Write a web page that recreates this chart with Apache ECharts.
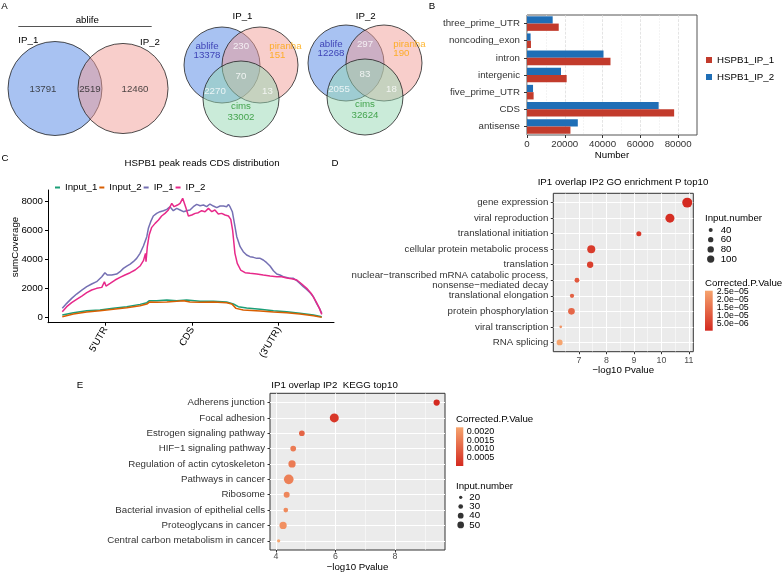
<!DOCTYPE html>
<html><head><meta charset="utf-8">
<script src="https://cdn.jsdelivr.net/npm/echarts@6/dist/echarts.min.js"></script>
<style>html,body{margin:0;padding:0;background:#fff}#c{width:784px;height:572px}</style>
</head><body><div id="c"></div>
<script>
// ================= DATA =================
// Panel A
const vennPairSets = ['IP_1', 'IP_2'];
const vennPairCounts = [13791, 2519, 12460]; // IP_1 only, both, IP_2 only
const venn3Sets = ['ablife', 'piranha', 'cims'];
// ablife only, piranha only, cims only, ablife&piranha, ablife&cims, piranha&cims, all three
const vennIP1 = [13378, 151, 33002, 230, 2270, 13, 70];
const vennIP2 = [12268, 190, 32624, 297, 2055, 18, 83];

// Panel B
const regionCats = ['three_prime_UTR', 'noncoding_exon', 'intron', 'intergenic', 'five_prime_UTR', 'CDS', 'antisense'];
const regionIP1 = [16800, 2100, 44200, 21000, 3500, 77900, 23000];
const regionIP2 = [13600, 1900, 40500, 18000, 3200, 69700, 26900];
const regionTicks = [0, 20000, 40000, 60000, 80000];

// Panel C  [position %, sumCoverage]
const covInput1 = [[0.1,183],[4.4,343],[9.5,480],[14.6,526],[19.7,640],[24.9,754],[30.0,914],[32.6,1029],[33.6,1166],[36.4,1166],[40.3,1212],[44.1,1166],[47.9,1212],[53.1,1120],[58.2,1120],[63.3,1074],[65.9,937],[67.8,754],[71.0,663],[76.2,572],[81.3,480],[86.4,411],[91.5,297],[96.7,183],[99.9,69]];
const covInput2 = [[0.1,69],[4.4,251],[9.5,389],[14.6,480],[19.7,572],[24.9,686],[30.0,823],[32.6,937],[33.6,1074],[36.4,1052],[40.3,1074],[44.1,1120],[46.7,1166],[49.2,1074],[53.1,1052],[58.2,1074],[63.3,1029],[65.3,937],[66.9,640],[69.7,526],[76.2,457],[81.3,389],[86.4,343],[91.5,251],[96.7,137],[99.9,23]];
const covIP1 = [[0.1,640],[1.8,983],[3.7,1326],[5.6,1623],[7.6,1897],[9.5,2126],[11.4,2309],[13.3,2469],[15.3,2812],[16.5,3086],[17.4,2926],[19.1,2926],[21.0,2995],[22.3,3155],[23.6,3383],[24.9,3543],[26.2,3680],[27.4,3840],[28.7,4069],[30.0,4412],[31.3,4915],[32.6,5555],[33.2,6126],[34.1,6584],[35.1,6972],[36.4,7155],[37.7,7269],[39.0,7338],[40.3,7430],[41.5,7612],[42.8,7338],[44.1,7498],[45.4,7384],[46.7,7269],[47.9,7338],[49.2,7384],[50.5,7612],[51.8,7772],[53.1,7681],[54.4,7727],[55.6,7612],[56.9,7795],[58.2,7658],[59.5,7544],[60.8,7658],[62.1,7658],[63.3,7612],[64.0,7772],[64.6,7612],[65.5,7269],[66.3,6469],[67.2,5555],[68.5,4869],[69.7,4526],[71.0,4298],[72.3,4183],[73.6,4138],[74.9,4069],[76.2,4069],[77.4,3955],[78.7,3772],[80.0,3543],[81.3,3223],[82.6,2995],[83.8,2926],[85.1,2812],[86.4,2766],[87.7,2697],[89.0,2697],[90.3,2537],[91.5,2355],[92.8,2126],[94.1,1943],[95.4,1715],[96.7,1440],[97.9,983],[99.0,640],[99.9,297]];
const covIP2 = [[0.1,411],[1.8,754],[3.7,1029],[5.6,1257],[7.6,1486],[9.5,1715],[11.4,1897],[13.3,2012],[15.3,2080],[16.3,2469],[16.9,2172],[18.5,2355],[20.4,2583],[22.3,2766],[24.2,2926],[26.2,3086],[28.1,3269],[30.0,3543],[31.3,3909],[32.1,4412],[32.3,3840],[32.8,4869],[33.5,5669],[34.5,6195],[35.8,6469],[37.1,6698],[38.3,6972],[39.6,7155],[40.9,7384],[42.2,7841],[43.1,7612],[44.4,7727],[45.4,7841],[46.4,8184],[47.1,8070],[47.7,7498],[48.6,6972],[49.9,7040],[51.2,7155],[52.4,7201],[53.7,7338],[55.0,7269],[56.3,7498],[57.6,7269],[58.8,7384],[60.1,7109],[61.4,7155],[62.7,7040],[64.0,6972],[64.9,6744],[65.6,6012],[66.5,4412],[67.4,3726],[68.7,3269],[70.4,3086],[72.3,3040],[74.9,2995],[77.4,2926],[80.0,2858],[82.6,2812],[84.5,2812],[86.4,2720],[88.3,2675],[90.3,2583],[92.2,2309],[94.1,2012],[96.0,1623],[97.9,1029],[99.0,640],[99.9,229]];
const covTickPos = [16.67, 50, 83.33];
const covTickLabels = ["5'UTR", 'CDS', "(3'UTR)"];
const covYTicks = [0, 2000, 4000, 6000, 8000];

// Panel D (GO)
const goTerms = ['gene expression', 'viral reproduction', 'translational initiation', 'cellular protein metabolic process', 'translation', 'nuclear\u2212transcribed mRNA catabolic process,\nnonsense\u2212mediated decay', 'translational elongation', 'protein phosphorylation', 'viral transcription', 'RNA splicing'];
const goLogP = [10.94, 10.31, 9.18, 7.45, 7.41, 6.93, 6.75, 6.73, 6.34, 6.30];
const goCount = [175, 145, 55, 118, 79, 52, 44, 86, 26, 72];
const goPadj = [8e-7, 1.6e-6, 3.5e-6, 4.5e-6, 5e-6, 1.0e-5, 1.2e-5, 1.3e-5, 2.2e-5, 2.55e-5];
const goXTicks = [7, 8, 9, 10, 11];
const goXMinor = [6.5, 7.5, 8.5, 9.5, 10.5];
const goSizeBreaks = [40, 60, 80, 100];
const goColorBreaks = [2.5e-5, 2.0e-5, 1.5e-5, 1.0e-5, 5.0e-6];

// Panel E (KEGG)
const keggTerms = ['Adherens junction', 'Focal adhesion', 'Estrogen signaling pathway', 'HIF\u22121 signaling pathway', 'Regulation of actin cytoskeleton', 'Pathways in cancer', 'Ribosome', 'Bacterial invasion of epithelial cells', 'Proteoglycans in cancer', 'Central carbon metabolism in cancer'];
const keggLogP = [9.40, 5.96, 4.87, 4.58, 4.54, 4.43, 4.36, 4.33, 4.24, 4.09];
const keggCount = [45, 82, 39, 39, 57, 93, 42, 30, 57, 20];
const keggPadj = [1e-5, 2.5e-4, 1.1e-3, 1.5e-3, 1.5e-3, 1.6e-3, 1.7e-3, 1.8e-3, 1.9e-3, 2.26e-3];
const keggXTicks = [4, 6, 8];
const keggXMinor = [5, 7, 9];
const keggSizeBreaks = [20, 30, 40, 50];
const keggColorBreaks = [0.0020, 0.0015, 0.0010, 0.0005];

// ================= STYLE / LAYOUT =================
const FONT = 'Liberation Sans';
const FS = 9.7;
const LOW = '#D42A20', HIGH = '#F6A46E';
const sizeD = n => Math.sqrt(Math.max(1, -8.9 + 0.62 * n));
const sizeE = n => Math.sqrt(Math.max(1, -11.7 + 1.13 * n));
const padjD = [Math.min(...goPadj), Math.max(...goPadj)];
const padjE = [Math.min(...keggPadj), Math.max(...keggPadj)];
const plain = v => String(v);

const LAY = {
  pair: {cx: [55, 123], cy: 88.5, r0: 47},
  v3: [{bx: 241, by: 76.5}, {bx: 365, by: 74.5}],
  v3circle: [[-19, -11.5], [19, -11.5], [0, 22.5]], r3: 38,
  v3lab: {a: [-34, -25.5], p: [28.3, -25.5], c: [0, 35.5], ap: [0, -30], ac: [-26, 15], pc: [26.5, 15], all: [0, 0]},
  legD: {x: 705, sizeTop: 218.3, key0: 230, step: 9.7, colTop: 283.3, barY: 290.7, barH: 40},
  legE: {x: 456, colTop: 419.3, barY: 427.3, barH: 38.7, sizeTop: 486, key0: 497.3, step: 9.2}
};

const vennFill = ['rgba(82,134,230,0.5)', 'rgba(242,158,152,0.5)', 'rgba(150,215,180,0.5)'];
const setColor = ['#2323A8', '#FFA500', '#22922A'];

// ---------- Venn circles & labels ----------
const circles = [];
const labels = [];
const tot1 = vennPairCounts[0] + vennPairCounts[1];
const tot2 = vennPairCounts[1] + vennPairCounts[2];
const rr = [LAY.pair.r0, LAY.pair.r0 * Math.sqrt(tot2 / tot1)];
[0, 1].forEach(i => circles.push({value: [LAY.pair.cx[i], LAY.pair.cy], symbolSize: 2 * rr[i], itemStyle: {color: vennFill[i]}}));
const lensX = ((LAY.pair.cx[1] - rr[1]) + (LAY.pair.cx[0] + rr[0])) / 2;
labels.push({value: [(LAY.pair.cx[0] - rr[0] + LAY.pair.cx[1] - rr[1]) / 2, LAY.pair.cy + 1], label: {formatter: String(vennPairCounts[0]), color: '#222'}});
labels.push({value: [lensX, LAY.pair.cy + 1], label: {formatter: String(vennPairCounts[1]), color: '#222'}});
labels.push({value: [(LAY.pair.cx[0] + rr[0] + LAY.pair.cx[1] + rr[1]) / 2, LAY.pair.cy + 1], label: {formatter: String(vennPairCounts[2]), color: '#222'}});

[vennIP1, vennIP2].forEach((cnt, k) => {
  const b = LAY.v3[k];
  LAY.v3circle.forEach((o, i) => circles.push({value: [b.bx + o[0], b.by + o[1]], symbolSize: 2 * LAY.r3, itemStyle: {color: vennFill[i]}}));
  const L = LAY.v3lab;
  const P = (o) => [b.bx + o[0], b.by + o[1]];
  labels.push({value: P(L.a), label: {formatter: venn3Sets[0] + '\n' + cnt[0], color: setColor[0]}});
  labels.push({value: P(L.p), label: {formatter: venn3Sets[1] + '\n' + cnt[1], color: setColor[1], align: 'left'}});
  labels.push({value: P(L.c), label: {formatter: venn3Sets[2] + '\n' + cnt[2], color: setColor[2], lineHeight: 11.5}});
  labels.push({value: P(L.ap), label: {formatter: String(cnt[3]), color: '#fff'}});
  labels.push({value: P(L.ac), label: {formatter: String(cnt[4]), color: '#fff'}});
  labels.push({value: P(L.pc), label: {formatter: String(cnt[5]), color: '#fff'}});
  labels.push({value: P(L.all), label: {formatter: String(cnt[6]), color: '#fff'}});
});

// ---------- helpers ----------
function T(x, y, text, o) {
  o = o || {};
  return {type: 'text', x: x, y: y, rotation: o.rot || 0, silent: true, z: 100,
    style: {text: text, fontSize: o.size || FS, fontFamily: FONT, fill: o.color || '#000',
      align: o.align || 'center', verticalAlign: 'middle', textAlign: o.align || 'center', textVerticalAlign: 'middle'}};
}
function fmtExp(v) {
  const s = v.toExponential(1).split('e');
  const e = parseInt(s[1], 10);
  return s[0] + 'e' + (e < 0 ? '\u2212' : '+') + String(Math.abs(e)).padStart(2, '0');
}
const g = [];
g.push(T(4.5, 6, 'A'), T(432, 6, 'B'), T(5, 158, 'C'), T(335, 163, 'D'), T(80, 385, 'E'));
g.push(T(87.3, 20, 'ablife'));
g.push({type: 'line', silent: true, shape: {x1: 18.3, y1: 26.5, x2: 151.7, y2: 26.5}, style: {stroke: '#555', lineWidth: 1}});
g.push(T(28.3, 40, vennPairSets[0]), T(150, 42, vennPairSets[1]));
g.push(T(LAY.v3[0].bx + 1.5, 16.7, vennPairSets[0]), T(LAY.v3[1].bx + 0.7, 16.7, vennPairSets[1]));
g.push(T(202, 163, 'HSPB1 peak reads CDS distribution'));
g.push(T(15, 247, 'sumCoverage', {rot: Math.PI / 2}));
g.push(T(623, 182.7, 'IP1 overlap IP2 GO enrichment P top10'));
g.push(T(334.5, 385, 'IP1 overlap IP2  KEGG top10'));

// D legends
const LD = LAY.legD;
g.push(T(LD.x, LD.sizeTop, 'Input.number', {align: 'left'}));
goSizeBreaks.forEach((n, i) => g.push(T(LD.x + 15.7, LD.key0 + i * LD.step, String(n), {align: 'left'})));
g.push(T(LD.x, LD.colTop, 'Corrected.P.Value', {align: 'left'}));
g.push({type: 'rect', silent: true, shape: {x: LD.x, y: LD.barY, width: 7.7, height: LD.barH},
  style: {fill: new echarts.graphic.LinearGradient(0, 0, 0, 1, [{offset: 0, color: HIGH}, {offset: 1, color: LOW}])}});
goColorBreaks.forEach(v => {
  const y = LD.barY + LD.barH - (v - padjD[0]) / (padjD[1] - padjD[0]) * LD.barH;
  g.push(T(LD.x + 11.7, y, fmtExp(v), {align: 'left', size: 8.8}));
});
// E legends
const LE = LAY.legE;
g.push(T(LE.x, LE.colTop, 'Corrected.P.Value', {align: 'left'}));
g.push({type: 'rect', silent: true, shape: {x: LE.x, y: LE.barY, width: 7.3, height: LE.barH},
  style: {fill: new echarts.graphic.LinearGradient(0, 0, 0, 1, [{offset: 0, color: HIGH}, {offset: 1, color: LOW}])}});
keggColorBreaks.forEach(v => {
  const y = LE.barY + LE.barH - (v - padjE[0]) / (padjE[1] - padjE[0]) * LE.barH;
  g.push(T(LE.x + 10.7, y, v.toFixed(4), {align: 'left', size: 9}));
});
g.push(T(LE.x, LE.sizeTop, 'Input.number', {align: 'left'}));
keggSizeBreaks.forEach((n, i) => g.push(T(LE.x + 13.3, LE.key0 + i * LE.step, String(n), {align: 'left'})));

// ---------- option ----------
const catAxisLabel = (terms) => ({customValues: terms.map((t, i) => i + 1), formatter: v => terms[Math.round(v) - 1] || '', fontSize: FS, color: '#333', margin: 5, lineHeight: 9.5});
const whiteLine = w => ({show: true, lineStyle: {color: '#fff', width: w}});

const option = {
  animation: false,
  textStyle: {fontFamily: FONT},
  grid: [
    {left: 0, top: 0, width: 784, height: 572, outerBoundsMode: 'none'},
    {left: 527, top: 15, width: 170, height: 120, show: true, borderColor: '#555', borderWidth: 1, backgroundColor: '#fff', outerBoundsMode: 'none'},
    {left: 48, top: 190, width: 286, height: 132.7, outerBoundsMode: 'none'},
    {left: 553.3, top: 193.3, width: 140, height: 158.4, show: true, backgroundColor: '#EBEBEB', borderColor: '#333', borderWidth: 1, outerBoundsMode: 'none'},
    {left: 270, top: 393.3, width: 175, height: 156.7, show: true, backgroundColor: '#EBEBEB', borderColor: '#333', borderWidth: 1, outerBoundsMode: 'none'}
  ],
  xAxis: [
    {gridIndex: 0, type: 'value', min: 0, max: 784, show: false},
    {gridIndex: 1, type: 'value', min: 0, max: 90000,
      axisLine: {show: false}, axisTick: {show: true, length: 3, customValues: regionTicks, lineStyle: {color: '#333'}},
      axisLabel: {customValues: regionTicks, formatter: plain, fontSize: FS, color: '#333', margin: 4},
      splitLine: {show: true, lineStyle: {color: '#d9d9d9', type: 'dashed', width: 0.7}},
      minorTick: {show: false, splitNumber: 2}, minorSplitLine: {show: true, lineStyle: {color: '#e8e8e8', type: 'dashed', width: 0.5}},
      name: 'Number', nameLocation: 'middle', nameGap: 13, nameTextStyle: {fontSize: FS, color: '#000'}},
    {gridIndex: 2, type: 'value', min: -5.4, max: 104.6,
      axisLine: {show: true, onZero: false, lineStyle: {color: '#000', width: 1}},
      axisTick: {show: true, length: 3, customValues: covTickPos, lineStyle: {color: '#000'}},
      axisLabel: {customValues: covTickPos, rotate: 60, fontSize: FS, color: '#000', margin: 5,
        formatter: v => { const i = covTickPos.findIndex(p => Math.abs(p - v) < 1e-6); return i >= 0 ? covTickLabels[i] : ''; }},
      splitLine: {show: false}},
    {gridIndex: 3, type: 'value', min: 6.07, max: 11.16,
      axisLine: {show: false}, axisTick: {show: true, length: 2.5, customValues: goXTicks, lineStyle: {color: '#333'}},
      axisLabel: {customValues: goXTicks, formatter: plain, fontSize: 8.8, color: '#4D4D4D', margin: 4},
      splitLine: whiteLine(1),
      name: '\u2212log10 Pvalue', nameLocation: 'middle', nameGap: 13, nameTextStyle: {fontSize: FS, color: '#000'}},
    {gridIndex: 3, type: 'value', min: 6.07, max: 11.16, position: 'bottom',
      axisLine: {show: false}, axisTick: {show: false, customValues: goXMinor}, axisLabel: {show: false}, splitLine: whiteLine(0.5)},
    {gridIndex: 4, type: 'value', min: 3.8, max: 9.68,
      axisLine: {show: false}, axisTick: {show: true, length: 2.5, customValues: keggXTicks, lineStyle: {color: '#333'}},
      axisLabel: {customValues: keggXTicks, formatter: plain, fontSize: 8.8, color: '#4D4D4D', margin: 2.5},
      splitLine: whiteLine(1),
      name: '\u2212log10 Pvalue', nameLocation: 'middle', nameGap: 10.5, nameTextStyle: {fontSize: FS, color: '#000'}},
    {gridIndex: 4, type: 'value', min: 3.8, max: 9.68, position: 'bottom',
      axisLine: {show: false}, axisTick: {show: false, customValues: keggXMinor}, axisLabel: {show: false}, splitLine: whiteLine(0.5)}
  ],
  yAxis: [
    {gridIndex: 0, type: 'value', min: 0, max: 572, inverse: true, show: false},
    {gridIndex: 1, type: 'category', data: regionCats, inverse: true,
      axisLine: {show: false}, axisTick: {show: true, alignWithLabel: true, length: 3, lineStyle: {color: '#333'}},
      axisLabel: {fontSize: FS, color: '#333', margin: 7}, splitLine: {show: false}},
    {gridIndex: 2, type: 'value', min: -343, max: 8757,
      axisLine: {show: true, onZero: false, lineStyle: {color: '#000', width: 1}},
      axisTick: {show: true, length: 3, customValues: covYTicks, lineStyle: {color: '#000'}},
      axisLabel: {customValues: covYTicks, formatter: plain, fontSize: FS, color: '#000', margin: 5}, splitLine: {show: false}},
    {gridIndex: 3, type: 'value', min: 0.4, max: 10.6, inverse: true,
      axisLine: {show: false}, axisTick: {show: true, length: 2.5, customValues: goTerms.map((t, i) => i + 1), lineStyle: {color: '#333'}},
      axisLabel: catAxisLabel(goTerms), splitLine: whiteLine(1)},
    {gridIndex: 4, type: 'value', min: 0.4, max: 10.6, inverse: true,
      axisLine: {show: false}, axisTick: {show: true, length: 2.5, customValues: keggTerms.map((t, i) => i + 1), lineStyle: {color: '#333'}},
      axisLabel: catAxisLabel(keggTerms), splitLine: whiteLine(1)}
  ],
  legend: [
    {data: ['HSPB1_IP_1', 'HSPB1_IP_2'], orient: 'vertical', left: 706, top: 55, itemWidth: 6, itemHeight: 6, itemGap: 7,
      icon: 'rect', selectedMode: false, textStyle: {fontSize: FS, color: '#000', fontFamily: FONT}, padding: 0},
    {data: ['Input_1', 'Input_2', 'IP_1', 'IP_2'], orient: 'horizontal', left: 55, top: 182.5, itemWidth: 5, itemHeight: 2, itemGap: 2,
      icon: 'rect', selectedMode: false, textStyle: {fontSize: FS, color: '#000', fontFamily: FONT}, padding: 0}
  ],
  visualMap: [
    {type: 'continuous', show: false, seriesIndex: 8, dimension: 3, min: padjD[0], max: padjD[1], inRange: {color: [LOW, HIGH]}},
    {type: 'continuous', show: false, seriesIndex: 9, dimension: 3, min: padjE[0], max: padjE[1], inRange: {color: [LOW, HIGH]}}
  ],
  series: [
    {name: 'vennCircles', type: 'scatter', xAxisIndex: 0, yAxisIndex: 0, silent: true, z: 2, data: circles,
      itemStyle: {borderColor: '#222', borderWidth: 0.8, opacity: 1}},
    {name: 'vennLabels', type: 'scatter', xAxisIndex: 0, yAxisIndex: 0, silent: true, z: 5, symbolSize: 1, data: labels,
      itemStyle: {color: 'rgba(0,0,0,0)'}, label: {show: true, position: 'inside', fontSize: FS, lineHeight: 9.5, fontFamily: FONT}},
    {name: 'HSPB1_IP_2', type: 'bar', xAxisIndex: 1, yAxisIndex: 1, data: regionIP2, itemStyle: {color: '#1F6EB6'}, barGap: '0%', barCategoryGap: '15%'},
    {name: 'HSPB1_IP_1', type: 'bar', xAxisIndex: 1, yAxisIndex: 1, data: regionIP1, itemStyle: {color: '#C23B2C'}, barGap: '0%', barCategoryGap: '15%'},
    {name: 'Input_1', type: 'line', xAxisIndex: 2, yAxisIndex: 2, data: covInput1, showSymbol: false, color: '#1B9E77', lineStyle: {width: 1.5, color: '#1B9E77'}},
    {name: 'Input_2', type: 'line', xAxisIndex: 2, yAxisIndex: 2, data: covInput2, showSymbol: false, color: '#D95F02', lineStyle: {width: 1.5, color: '#D95F02'}},
    {name: 'IP_1', type: 'line', xAxisIndex: 2, yAxisIndex: 2, data: covIP1, showSymbol: false, color: '#7570B3', lineStyle: {width: 1.5, color: '#7570B3'}},
    {name: 'IP_2', type: 'line', xAxisIndex: 2, yAxisIndex: 2, data: covIP2, showSymbol: false, color: '#E7298A', lineStyle: {width: 1.5, color: '#E7298A'}},
    {name: 'GO', type: 'scatter', xAxisIndex: 3, yAxisIndex: 3, z: 4,
      data: goTerms.map((t, i) => [goLogP[i], i + 1, goCount[i], goPadj[i]]), symbolSize: v => sizeD(v[2]), itemStyle: {opacity: 1}},
    {name: 'KEGG', type: 'scatter', xAxisIndex: 5, yAxisIndex: 4, z: 4,
      data: keggTerms.map((t, i) => [keggLogP[i], i + 1, keggCount[i], keggPadj[i]]), symbolSize: v => sizeE(v[2]), itemStyle: {opacity: 1}},
    {name: 'goSizeLegend', type: 'scatter', xAxisIndex: 0, yAxisIndex: 0, silent: true, z: 6,
      data: goSizeBreaks.map((n, i) => [LD.x + 5.7, LD.key0 + i * LD.step, n]), symbolSize: v => sizeD(v[2]), itemStyle: {color: '#000'}},
    {name: 'keggSizeLegend', type: 'scatter', xAxisIndex: 0, yAxisIndex: 0, silent: true, z: 6,
      data: keggSizeBreaks.map((n, i) => [LE.x + 4.7, LE.key0 + i * LE.step, n]), symbolSize: v => sizeE(v[2]), itemStyle: {color: '#000'}}
  ],
  graphic: {elements: g}
};

const chart = echarts.init(document.getElementById('c'), null, {renderer: 'canvas'});
chart.setOption(option);
</script>
</body></html>
